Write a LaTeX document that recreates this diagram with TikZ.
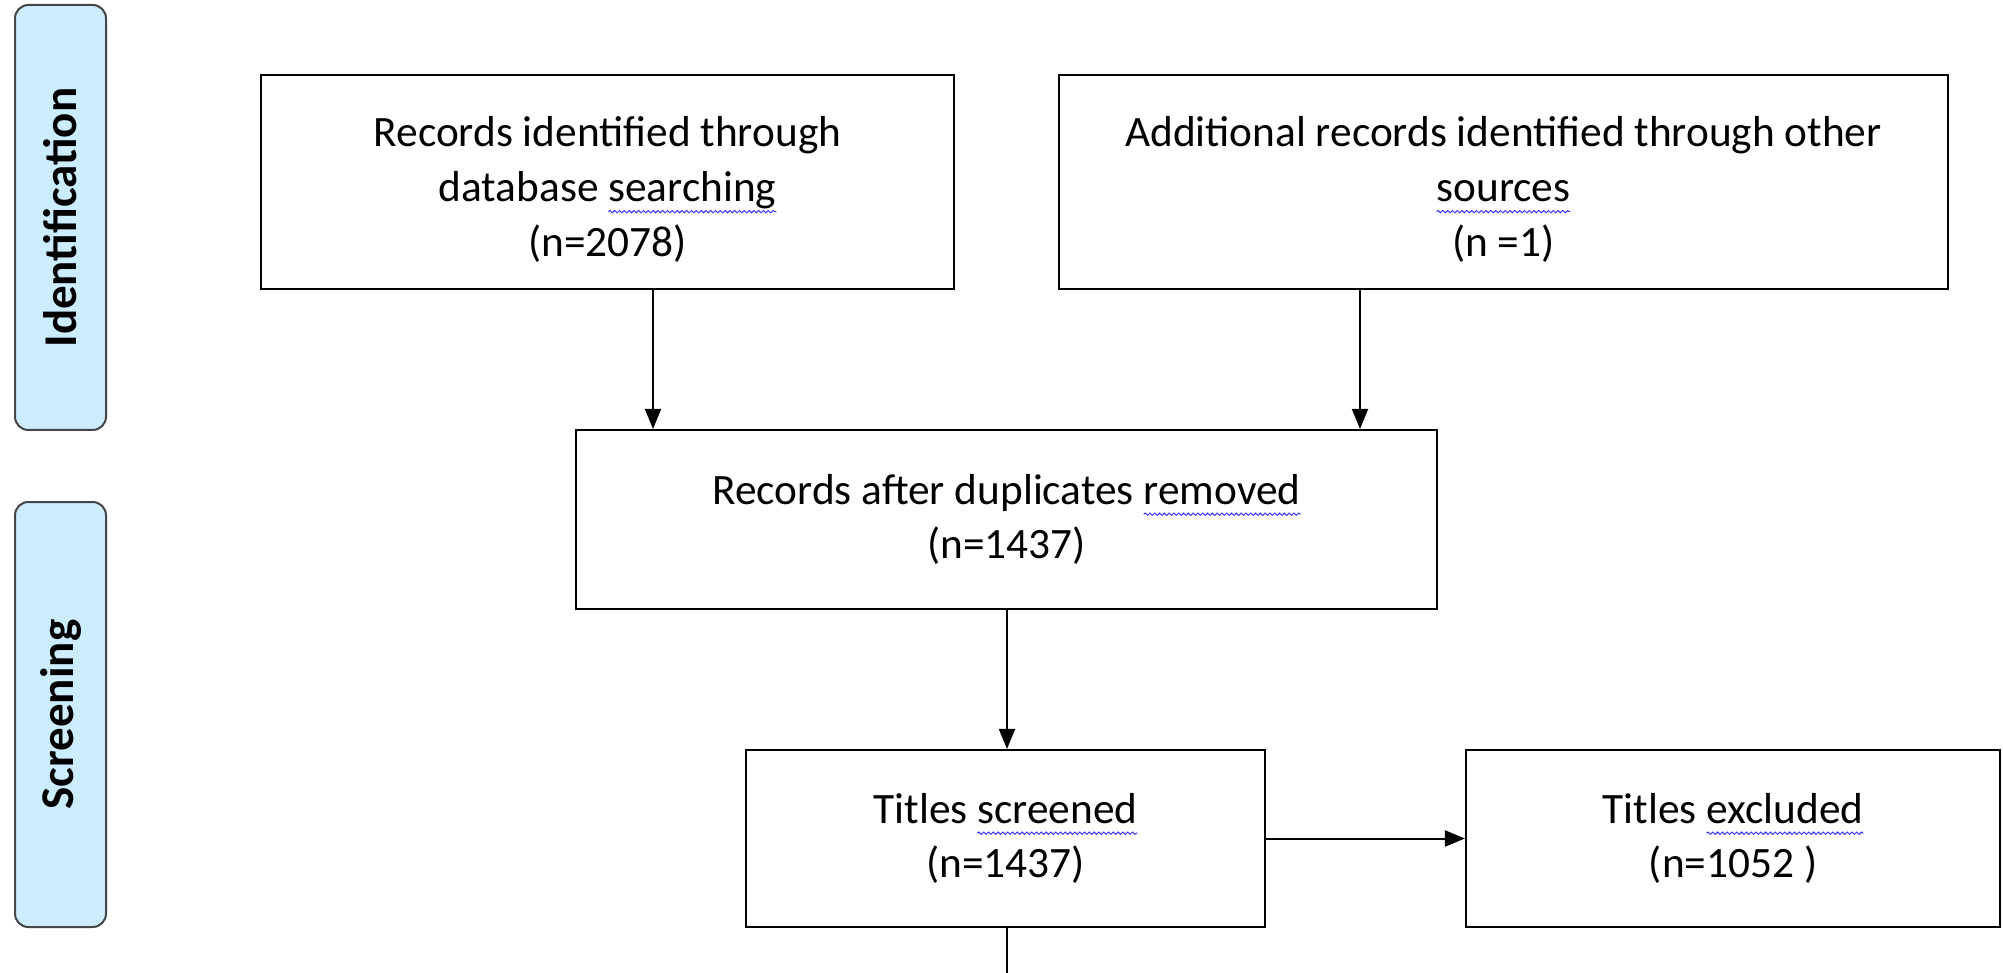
\documentclass[tikz,border=0pt]{standalone}
\usepackage{fontspec}
\setmainfont{Carlito}
\usetikzlibrary{arrows.meta,decorations.pathmorphing}
\definecolor{sidefill}{RGB}{204,236,255}
\definecolor{sideline}{RGB}{70,70,70}
\definecolor{spellblue}{RGB}{50,50,255}
\newcommand\squig[1]{\tikz[baseline=(sq.base)]{\node[inner sep=0pt,outer sep=0pt,draw=none,fill=none,minimum width=0pt,minimum height=0pt,anchor=base](sq){#1};\draw[overlay,spellblue,line width=0.7pt,decorate,decoration={snake,amplitude=0.9pt,segment length=3.6pt}] ([yshift=-7.5pt]sq.base west) -- ([yshift=-7.5pt]sq.base east);}}
\tikzset{
  box/.style={draw=black,line width=1.6pt,fill=white,align=center,inner sep=0pt,
    font=\fontsize{32.5pt}{41pt}\selectfont},
  side/.style={draw=sideline,line width=1.5pt,fill=sidefill,rounded corners=10pt,
    minimum width={91*0.75pt},minimum height={425*0.75pt},inner sep=0pt},
  sidetext/.style={rotate=90,font=\fontsize{35.25pt}{42pt}\selectfont\bfseries},
  arr/.style={line width=1.5pt,-{Triangle[length=15pt,width=12pt]}},
  plain/.style={line width=1.5pt}
}
\begin{document}
\begin{tikzpicture}[x=0.75pt,y=-0.75pt]
\path[use as bounding box] (0,0) rectangle (2003,973);
% side bars
\node[side] (s1) at (60.5,217.5) {};
\node[sidetext] (s1t) at (s1.center) {Identification};
\node[side] (s2) at (60.5,714.5) {};
\node[sidetext] (s2t) at (s2.center) {Screening};
% boxes
\node[box,minimum width={693*0.75pt},minimum height={214*0.75pt}] (b1) at (607.5,182)
  {\rule{0pt}{34pt}Records identified through\\database \squig{searching}\\(n=2078)};
\node[box,minimum width={889*0.75pt},minimum height={214*0.75pt}] (b2) at (1503.5,182)
  {\rule{0pt}{34pt}Additional records identified through other\\\squig{sources}\\(n =1)};
\node[box,minimum width={861*0.75pt},minimum height={179*0.75pt}] (b3) at (1006.5,519.5)
  {Records after duplicates \squig{removed}\\(n=1437)};
\node[box,minimum width={519*0.75pt},minimum height={177*0.75pt}] (b4) at (1005.5,838.5)
  {Titles \squig{screened}\\(n=1437)};
\node[box,minimum width={534*0.75pt},minimum height={177*0.75pt}] (b5) at (1733,838.5)
  {Titles \squig{excluded}\\(n=1052 )};
% connectors
\coordinate (a1) at (653,0);
\coordinate (a2) at (1360,0);
\coordinate (a3) at (1007,0);
\coordinate (e) at (1007,973);
\draw[arr] (b1.south -| a1) -- (b3.north -| a1);
\draw[arr] (b2.south -| a2) -- (b3.north -| a2);
\draw[arr] (b3.south -| a3) -- (b4.north -| a3);
\draw[arr] (b4.east) -- (b5.west);
\draw[plain] (b4.south -| e) -- (e);
\end{tikzpicture}
\end{document}
